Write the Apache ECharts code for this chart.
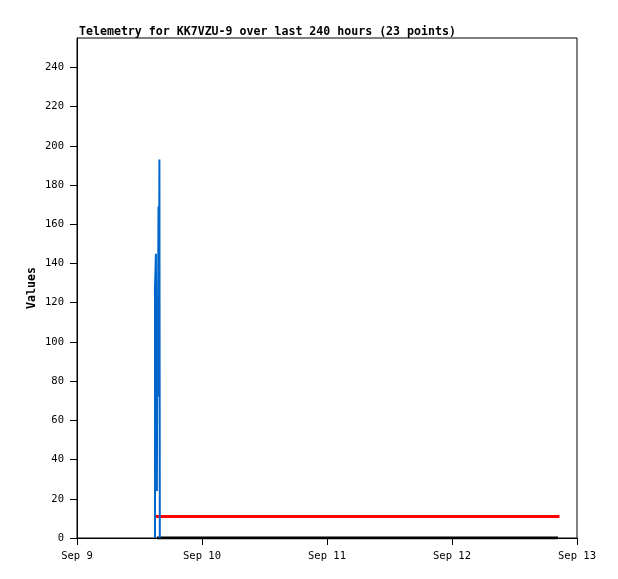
<!DOCTYPE html>
<html><head><meta charset="utf-8">
<script src="https://cdn.jsdelivr.net/npm/echarts@6/dist/echarts.min.js"></script>
<style>html,body{margin:0;padding:0;background:#fff}#c{width:618px;height:579px}</style>
</head><body><div id="c"></div>
<script>
// x values: hours after Sep 9 00:00
var titleText = 'Telemetry for KK7VZU-9 over last 240 hours (23 points)';
var xTickLabels = ['Sep 9', 'Sep 10', 'Sep 11', 'Sep 12', 'Sep 13'];
var yTicks = [0, 20, 40, 60, 80, 100, 120, 140, 160, 180, 200, 220, 240];
var blueHours = [14.98, 14.98, 15.15, 15.34, 15.42, 15.50, 15.65, 15.73, 15.82, 15.90];
var blueValues = [0, 128, 145, 24, 121, 72, 169, 72, 193, 0];
var redHours = [15.36, 92.35];
var redValues = [11, 11];
var blackHours = [15.36, 92.35];
var blackValues = [0, 0];

function zip(a, b) { return a.map(function (v, i) { return [v, b[i]]; }); }
var mono = 'DejaVu Sans Mono';
var chart = echarts.init(document.getElementById('c'), null, {renderer: 'canvas'});
chart.setOption({
  animation: false,
  title: {text: titleText, left: 74, top: 21, textStyle: {fontFamily: mono, fontSize: 11.6, fontWeight: 'bold', color: '#000'}},
  grid: {left: 77, right: 41, top: 38, bottom: 41, show: true, borderColor: '#000', borderWidth: 1},
  xAxis: {
    type: 'value', min: 0, max: 96, interval: 24,
    axisLine: {lineStyle: {color: '#000'}},
    axisTick: {length: 7, lineStyle: {color: '#000'}},
    axisLabel: {margin: 13, fontFamily: mono, fontSize: 10.5, color: '#000',
      formatter: function (v) { return xTickLabels[Math.round(v / 24)]; }},
    splitLine: {show: false}
  },
  yAxis: {
    type: 'value', min: 0, max: 255, interval: 20,
    name: 'Values', nameLocation: 'middle', nameGap: 39, nameMoveOverlap: false,
    nameTextStyle: {fontFamily: mono, fontSize: 11.6, fontWeight: 'bold', color: '#000'},
    axisLine: {show: true, lineStyle: {color: '#000'}},
    axisTick: {show: true, length: 7, lineStyle: {color: '#000'}, customValues: yTicks},
    axisLabel: {margin: 13, fontFamily: mono, fontSize: 10.5, color: '#000', customValues: yTicks},
    splitLine: {show: false}
  },
  series: [
    {type: 'line', data: zip(blackHours, blackValues), showSymbol: false, lineStyle: {color: '#000', width: 3}, z: 2},
    {type: 'line', data: zip(redHours, redValues), symbol: 'rect', symbolSize: 3, itemStyle: {color: '#ff0000'}, lineStyle: {color: '#ff0000', width: 3}, z: 3},
    {type: 'line', data: zip(blueHours, blueValues), showSymbol: false, lineStyle: {color: '#0066cc', width: 2}, z: 4}
  ]
});
</script></body></html>
